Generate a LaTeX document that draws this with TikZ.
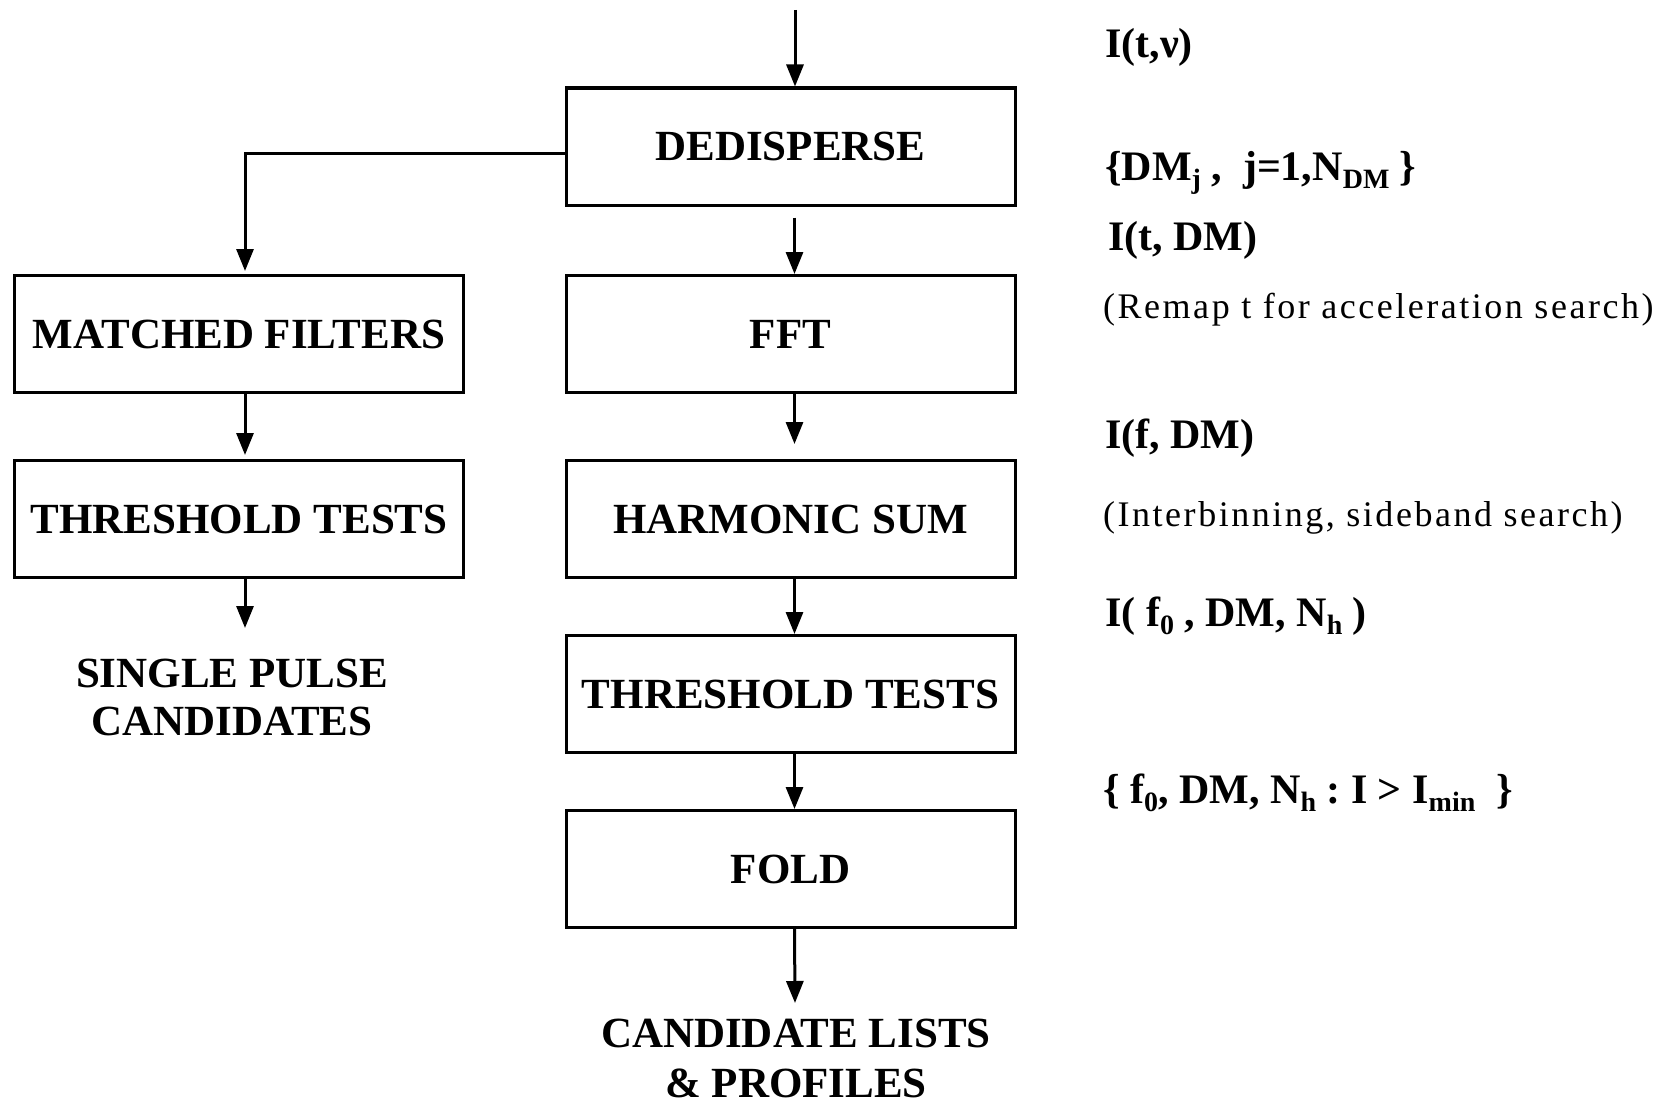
\documentclass[tikz,border=0pt]{standalone}
\usepackage{fontspec}
\setmainfont{Liberation Serif}
\newfontfamily\spacedfont[LetterSpace=7]{Liberation Serif}
\usetikzlibrary{arrows.meta}
\newcommand{\lsub}[1]{\raisebox{-8pt}{\fontsize{28}{28}\selectfont #1}}
\begin{document}
\begin{tikzpicture}[x=1pt,y=-1pt,
  box/.style={draw, line width=3pt, minimum width=449pt, minimum height=117pt, inner sep=0pt, font=\fontsize{43}{50}\selectfont\bfseries},
  flow/.style={line width=3pt, -{Triangle[width=17pt,length=22pt]}},
  lbl/.style={anchor=base west, inner sep=0pt, font=\fontsize{42}{48}\selectfont\bfseries},
  note/.style={anchor=base west, inner sep=0pt, font=\fontsize{36}{42}\spacedfont},
  outtext/.style={align=center, inner sep=0pt}]
\useasboundingbox (0,0) rectangle (1679,1108);
\fill[white] (0,0) rectangle (1679,1108);

% center column
\node[box] (ded)  at (790.5,146.5) {DEDISPERSE};
\node[box] (fft)  at (790.5,334)   {FFT};
\node[box] (harm) at (790.5,519)   {HARMONIC SUM};
\node[box] (thr)  at (790.5,694)   {THRESHOLD TESTS};
\node[box] (fold) at (790.5,869)   {FOLD};

% left column
\node[box] (mf)  at (239,334) {MATCHED FILTERS};
\node[box] (thl) at (239,519) {THRESHOLD TESTS};

% outputs
\node[outtext, font=\fontsize{43}{48}\selectfont\bfseries] (sp) at (232,697) {SINGLE PULSE\\CANDIDATES};
\node[outtext, font=\fontsize{43}{50}\selectfont\bfseries] (cl) at (796,1058) {CANDIDATE LISTS\\\& PROFILES};

% connectors
\coordinate (in0) at (795,10);
\coordinate (foldout) at (795,1003);
\coordinate (spout) at (245,628);
\draw[flow] (in0) -- (in0 |- ded.north);
\draw[flow, shorten <=11pt] ([xshift=4pt]ded.south) -- ([xshift=4pt]fft.north);
\draw[flow, shorten >=15pt] ([xshift=4pt]fft.south) -- ([xshift=4pt]harm.north);
\draw[flow] ([xshift=4pt]harm.south) -- ([xshift=4pt]thr.north);
\draw[flow] ([xshift=4pt]thr.south) -- ([xshift=4pt]fold.north);
\draw[flow] ([xshift=4pt]fold.south) -- (foldout);
\draw[flow, shorten >=3pt] ([yshift=-7pt]ded.west) -| ([xshift=6pt]mf.north);
\draw[flow, shorten >=4pt] ([xshift=6pt]mf.south) -- ([xshift=6pt]thl.north);
\draw[flow] ([xshift=6pt]thl.south) -- (spout);

% right-hand labels
\node[lbl]  (l1) at (1105,58)  {I(t,ν)};
\node[lbl]  (l2) at (1105,180) {\{DM\lsub{j} ,\ \ j=1,N\lsub{DM} \}};
\node[lbl]  (l3) at (1108,250) {I(t, DM)};
\node[note] (l4) at (1103,318) {(Remap t for acceleration search)};
\node[lbl]  (l5) at (1105,448) {I(f, DM)};
\node[note] (l6) at (1103,526) {(Interbinning, sideband search)};
\node[lbl]  (l7) at (1105,626) {I( f\lsub{0} , DM, N\lsub{h} )};
\node[lbl]  (l8) at (1103,803) {\{ f\lsub{0}, DM, N\lsub{h} :\ I > I\lsub{min}\ \ \}};
\end{tikzpicture}
\end{document}
